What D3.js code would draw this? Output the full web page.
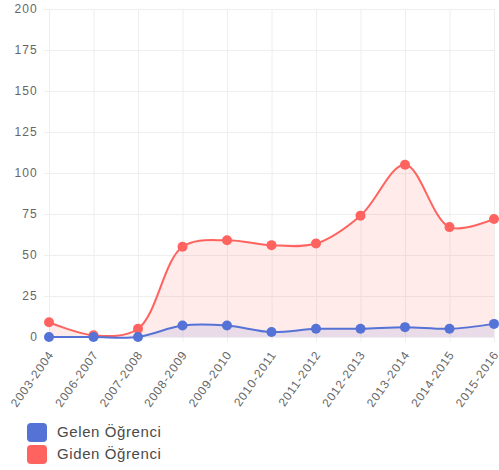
<!DOCTYPE html>
<html lang="tr">
<head>
<meta charset="UTF-8">
<title>Öğrenci Hareketliliği</title>
<script src="https://d3js.org/d3.v7.min.js"></script>
<style>
  body { margin: 0; background: #fff; }
  text { font-family: "Liberation Sans", Arial, sans-serif; }
</style>
</head>
<body>
<script>
// veri
var years = ["2003-2004", "2006-2007", "2007-2008", "2008-2009", "2009-2010", "2010-2011",
             "2011-2012", "2012-2013", "2013-2014", "2014-2015", "2015-2016"];
var gelen = [0, 0, 0, 7, 7, 3, 5, 5, 6, 5, 8];
var giden = [9, 1, 5, 55, 59, 56, 57, 74, 105, 67, 72];
var yTicks = [0, 25, 50, 75, 100, 125, 150, 175, 200];
var seriesNames = ["Gelen Öğrenci", "Giden Öğrenci"];

var width = 499, height = 470;
var plotLeft = 49, plotRight = 494, plotTop = 9, plotBottom = 337;

var svg = d3.select("body").append("svg")
    .attr("width", width)
    .attr("height", height);

var x = d3.scalePoint().domain(years).range([plotLeft, plotRight]);
var y = d3.scaleLinear().domain([0, 200]).range([plotBottom, plotTop]);

// grid
svg.append("g").selectAll("line")
    .data(yTicks)
    .enter().append("line")
    .attr("x1", plotLeft - 5).attr("x2", plotRight)
    .attr("y1", function (d) { return y(d) + 0.5; })
    .attr("y2", function (d) { return y(d) + 0.5; })
    .attr("stroke", "#eeeeee").attr("stroke-width", 1);

svg.append("g").selectAll("line")
    .data(years)
    .enter().append("line")
    .attr("x1", function (d) { return x(d) + 0.5; })
    .attr("x2", function (d) { return x(d) + 0.5; })
    .attr("y1", plotTop).attr("y2", plotBottom + 5)
    .attr("stroke", "#eeeeee").attr("stroke-width", 1);

// y axis labels
svg.append("g").selectAll("text")
    .data(yTicks)
    .enter().append("text")
    .attr("x", 38)
    .attr("y", function (d) { return y(d); })
    .attr("dy", "0.35em")
    .attr("text-anchor", "end")
    .attr("font-size", 12)
    .attr("letter-spacing", 1.2)
    .attr("fill", "#666")
    .text(function (d) { return d; });

// x axis labels
svg.append("g").selectAll("text")
    .data(years)
    .enter().append("text")
    .attr("transform", function (d) { return "translate(" + (x(d) + 2) + "," + (plotBottom + 15) + ") rotate(-55)"; })
    .attr("text-anchor", "end")
    .attr("dy", "0.35em")
    .attr("font-size", 12)
    .attr("letter-spacing", 0.9)
    .attr("fill", "#666")
    .text(function (d) { return d; });

var curve = d3.curveCatmullRom.alpha(0.5);

function drawSeries(values, color, fill) {
    var area = d3.area()
        .x(function (d, i) { return x(years[i]); })
        .y0(y(0))
        .y1(function (d) { return y(d); })
        .curve(curve);
    var line = d3.line()
        .x(function (d, i) { return x(years[i]); })
        .y(function (d) { return y(d); })
        .curve(curve);
    svg.append("path").datum(values).attr("d", area).attr("fill", fill);
    return function () {
        svg.append("path").datum(values).attr("d", line)
            .attr("fill", "none").attr("stroke", color).attr("stroke-width", 2);
        svg.append("g").selectAll("circle")
            .data(values)
            .enter().append("circle")
            .attr("cx", function (d, i) { return x(years[i]); })
            .attr("cy", function (d) { return y(d); })
            .attr("r", 5)
            .attr("fill", color);
    };
}

var redTop = drawSeries(giden, "#ff6360", "rgba(255,99,96,0.13)");
var blueTop = drawSeries(gelen, "#5572d6", "rgba(85,114,214,0.13)");
redTop();
blueTop();

// legend
var legendColors = ["#5572d6", "#ff6360"];
var lg = svg.append("g").selectAll("g")
    .data(seriesNames)
    .enter().append("g")
    .attr("transform", function (d, i) { return "translate(27," + (423 + i * 22) + ")"; });
lg.append("rect")
    .attr("width", 20).attr("height", 19).attr("rx", 4)
    .attr("fill", function (d, i) { return legendColors[i]; });
lg.append("text")
    .attr("x", 30).attr("y", 9).attr("dy", "0.35em")
    .attr("font-size", 15)
    .attr("letter-spacing", 0.6)
    .attr("fill", "#4a4a4a")
    .text(function (d) { return d; });
</script>
</body>
</html>
